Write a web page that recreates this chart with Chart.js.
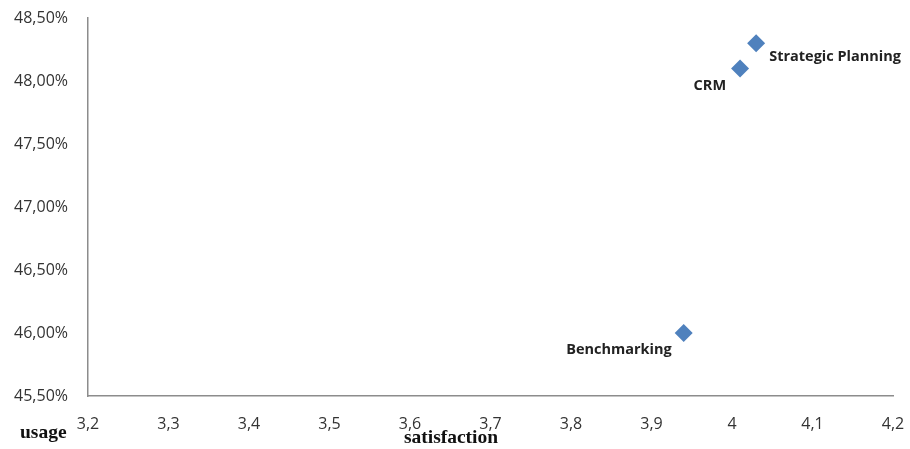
<!DOCTYPE html>
<html><head><meta charset="utf-8">
<script src="https://cdn.jsdelivr.net/npm/chart.js@4/dist/chart.umd.min.js"></script>
<style>html,body{margin:0;padding:0;background:#fff}#wrap{width:910px;height:449px}</style>
</head><body><div id="wrap"><canvas id="c" width="910" height="449"></canvas></div>
<script>
const tools = ["Strategic Planning", "CRM", "Benchmarking"];
const satisfaction = [4.03, 4.01, 3.94];
const usage = [48.30, 48.10, 46.00];
const xTicks = [3.2, 3.3, 3.4, 3.5, 3.6, 3.7, 3.8, 3.9, 4.0, 4.1, 4.2];
const yTicks = [45.5, 46.0, 46.5, 47.0, 47.5, 48.0, 48.5];

const labelPlacement = [
  {dx: 13, dy: 14, align: 'left'},
  {dx: -14, dy: 17, align: 'right'},
  {dx: -12, dy: 17, align: 'right'}
];

const pointLabels = {
  id: 'pointLabels',
  afterDatasetsDraw(chart) {
    const ctx = chart.ctx;
    const meta = chart.getDatasetMeta(0);
    ctx.save();
    ctx.font = 'bold 14.5px "Open Sans", sans-serif';
    ctx.fillStyle = '#222';
    ctx.textBaseline = 'middle';
    meta.data.forEach((el, i) => {
      const p = labelPlacement[i];
      ctx.textAlign = p.align;
      ctx.fillText(tools[i], el.x + p.dx, el.y + p.dy);
    });
    ctx.restore();
  }
};

const axisNames = {
  id: 'axisNames',
  afterDraw(chart) {
    const ctx = chart.ctx;
    ctx.save();
    ctx.font = 'bold 19.5px "Liberation Serif", "DejaVu Serif", serif';
    ctx.fillStyle = '#111';
    ctx.textBaseline = 'alphabetic';
    ctx.textAlign = 'left';
    ctx.fillText('usage', 20, 438);
    ctx.textAlign = 'center';
    ctx.fillText('satisfaction', 451, 443);
    ctx.restore();
  }
};

new Chart(document.getElementById('c'), {
  type: 'scatter',
  data: {
    datasets: [{
      data: satisfaction.map((x, i) => ({x, y: usage[i]})),
      pointStyle: 'rectRot',
      pointRadius: 9,
      pointHoverRadius: 9,
      backgroundColor: '#4F81BD',
      borderColor: '#4F81BD',
      borderWidth: 0
    }]
  },
  options: {
    responsive: false,
    animation: false,
    events: [],
    layout: {padding: {top: 18, right: 17, left: 0, bottom: 0}},
    plugins: {legend: {display: false}, tooltip: {enabled: false}},
    scales: {
      x: {
        type: 'linear',
        min: xTicks[0], max: xTicks[xTicks.length - 1],
        afterBuildTicks: s => { s.ticks = xTicks.map(v => ({value: v})); },
        afterFit: s => { s.height = 53; s.paddingLeft = 0; s.paddingRight = 0; },
        grid: {display: false, drawTicks: false},
        border: {display: true, color: '#8c8c8c', width: 1.5},
        ticks: {
          padding: 19,
          color: '#333',
          font: {family: '"Open Sans", sans-serif', size: 16},
          callback: v => String(+(+v).toFixed(1)).replace('.', ',')
        }
      },
      y: {
        type: 'linear',
        min: yTicks[0], max: yTicks[yTicks.length - 1],
        afterBuildTicks: s => { s.ticks = yTicks.map(v => ({value: v})); },
        afterFit: s => { s.width = 88; s.paddingTop = 0; s.paddingBottom = 0; },
        grid: {display: false, drawTicks: false},
        border: {display: true, color: '#8c8c8c', width: 1.5},
        ticks: {
          padding: 20,
          color: '#333',
          font: {family: '"Open Sans", sans-serif', size: 16},
          callback: v => (+v).toFixed(2).replace('.', ',') + '%'
        }
      }
    }
  },
  plugins: [pointLabels, axisNames]
});
</script></body></html>
